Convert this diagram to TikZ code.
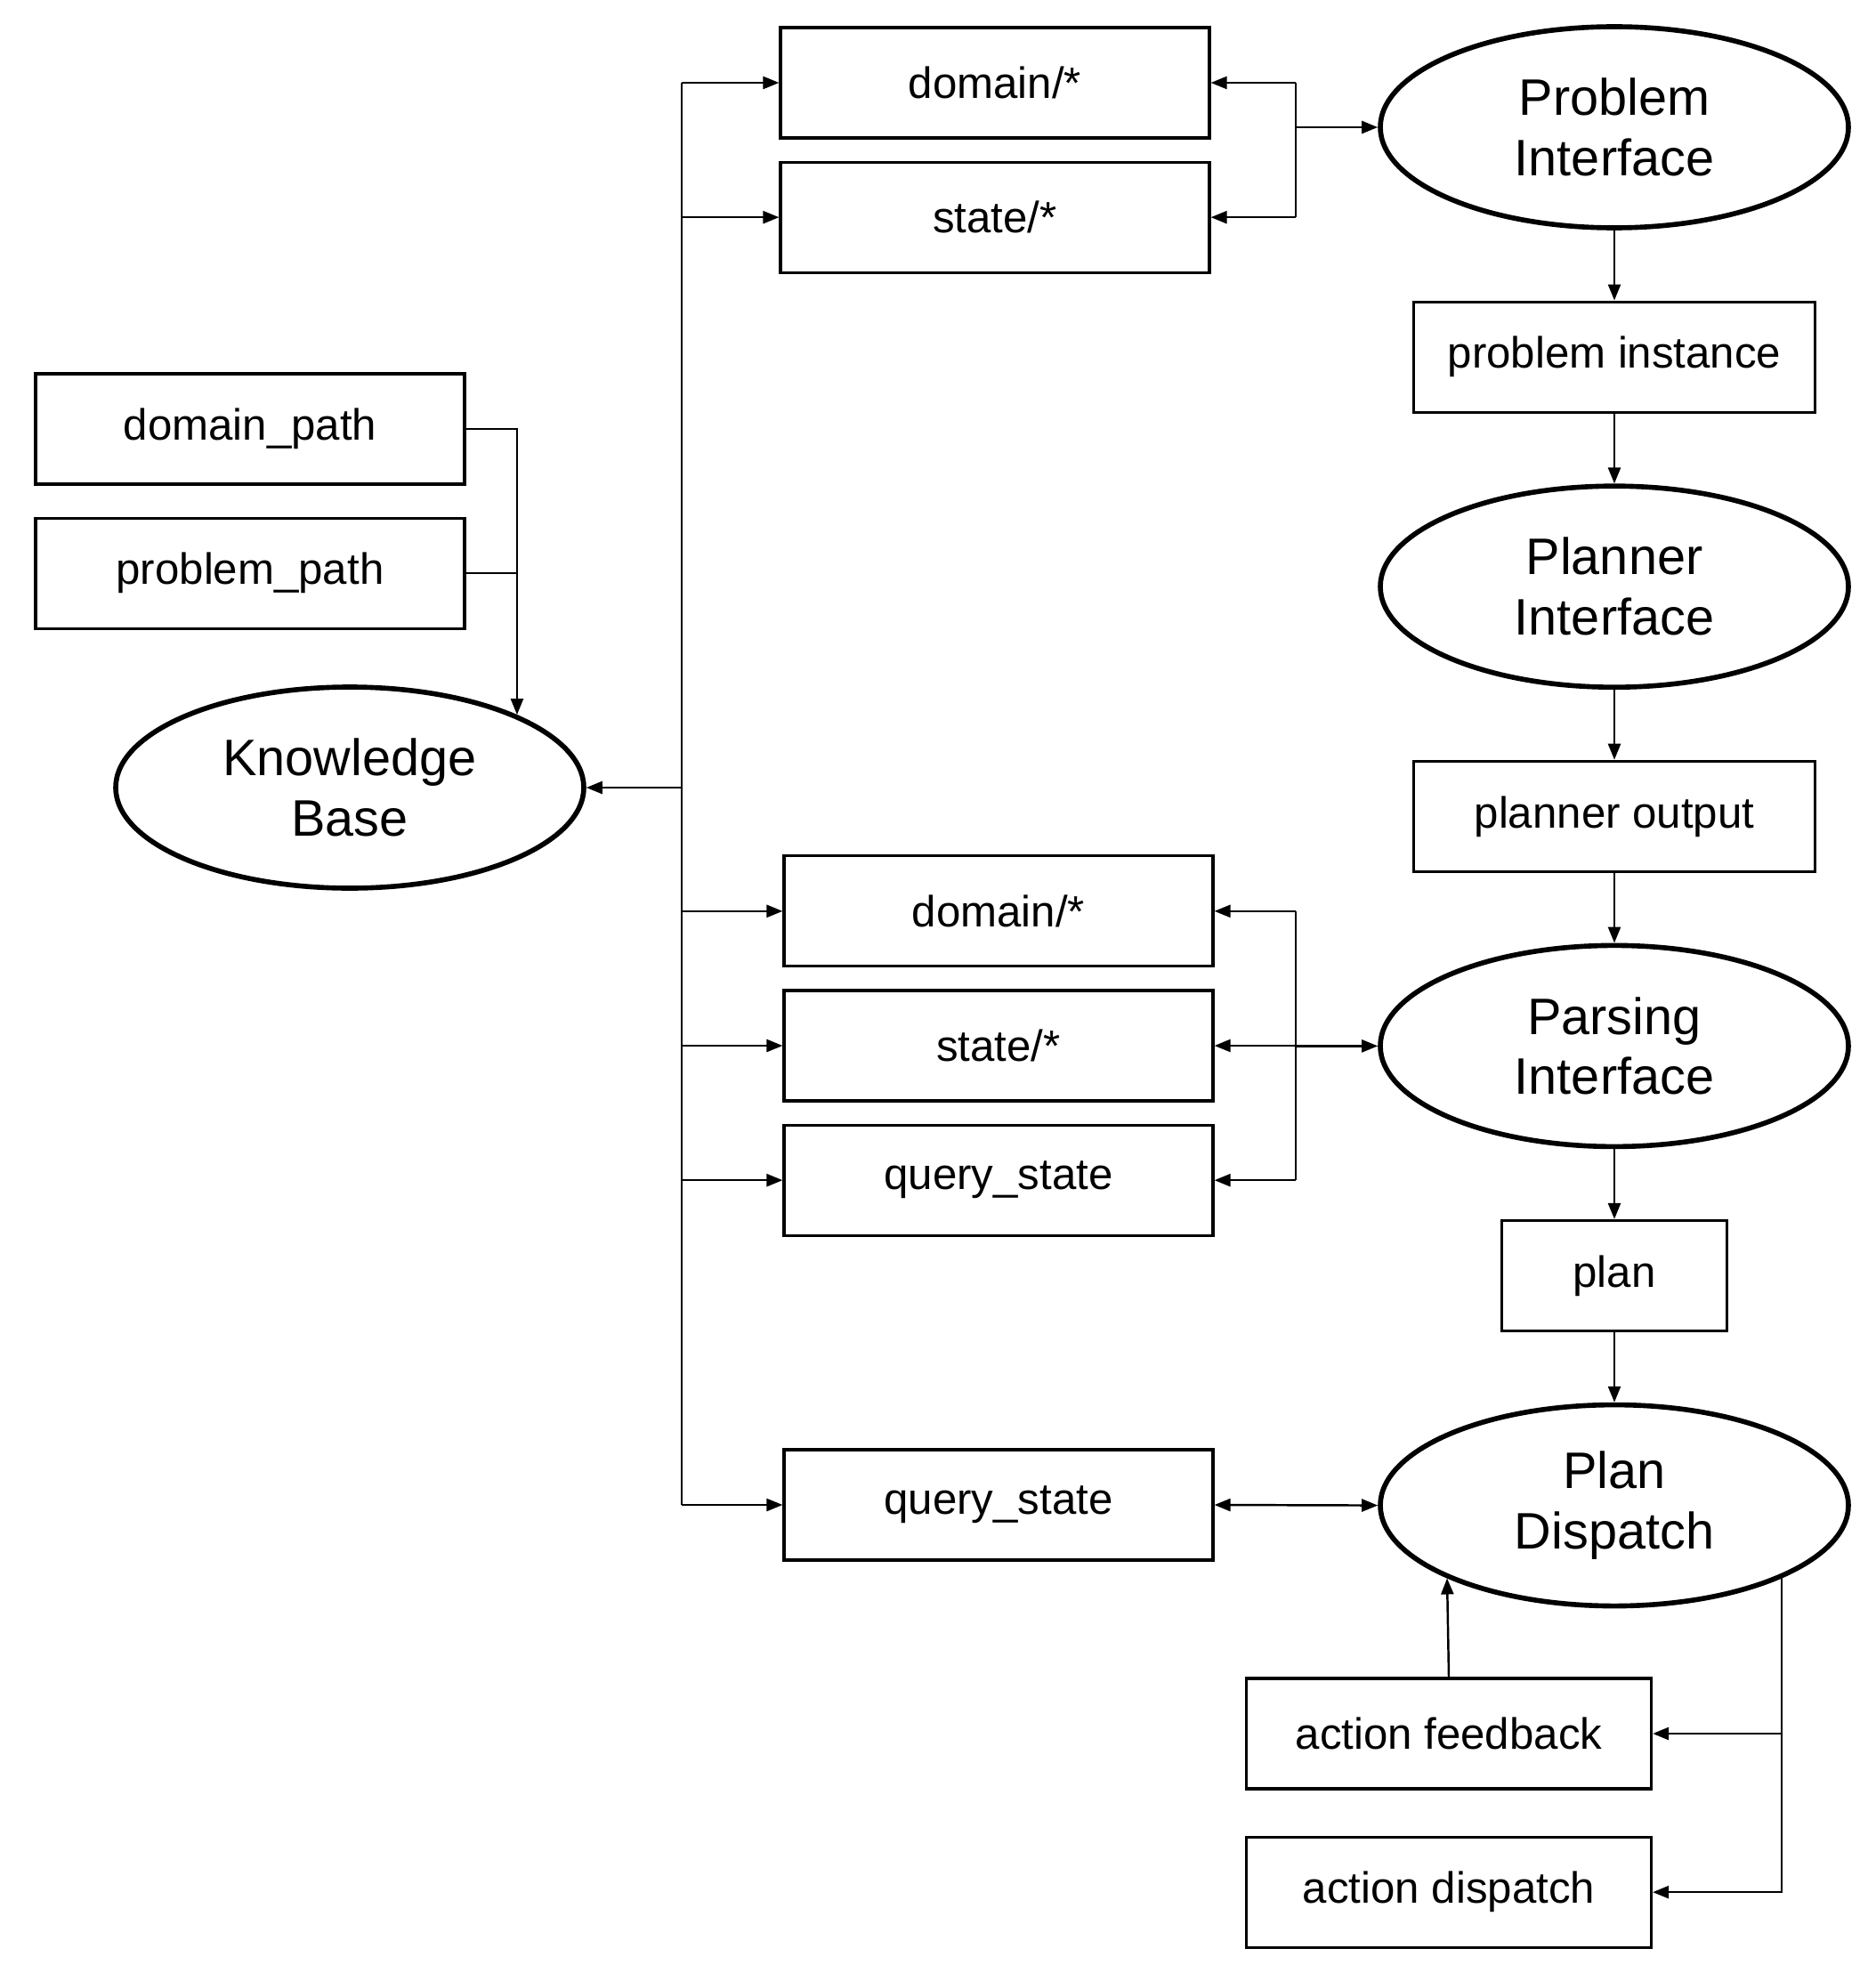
\documentclass[tikz,border=0pt]{standalone}
\usepackage{fontspec}
\setmainfont{Liberation Sans}
\usepackage{tikz}
\usetikzlibrary{positioning,arrows.meta,shapes.geometric}

\begin{document}
\begin{tikzpicture}[
  blk/.style={draw,line width=0.9pt,minimum width=4.82cm,minimum height=1.24cm,inner sep=0pt,align=center,font=\fontsize{14}{17}\selectfont},
  proc/.style={draw,ellipse,line width=1.6pt,minimum width=5.26cm,minimum height=2.26cm,inner sep=0pt,align=center,font=\fontsize{16.4}{19.3}\selectfont},
  >={Triangle[length=1.8mm,width=1.4mm]}, line width=0.7pt, node distance=0.24cm and 1.5cm]

\useasboundingbox (0,0) rectangle (21.08,-22.17);

\node[proc] (kb) at (3.93,-8.85) {Knowledge\\Base};
\node[blk] (dpath) at (2.81,-4.82) {domain\_path};
\node[blk,below=0.35cm of dpath] (ppath) {problem\_path};

\node[blk] (tdom) at (11.18,-0.93) {domain/*};
\node[blk,below=of tdom] (tstate) {state/*};

\node[proc] (pi) at (18.14,-1.43) {Problem\\Interface};
\node[blk,minimum width=4.51cm,below=0.787cm of pi] (pinst) {problem instance};
\node[proc,below=0.787cm of pinst] (pli) {Planner\\Interface};
\node[blk,minimum width=4.51cm,below=0.787cm of pli] (pout) {planner output};
\node[proc,below=0.787cm of pout] (pai) {Parsing\\Interface};
\node[blk,minimum width=2.53cm,below=0.787cm of pai] (plan) {plan};
\node[proc,below=0.787cm of plan] (pd) {Plan\\Dispatch};

\node[blk] (mstate) at (11.22,-11.75) {state/*};
\node[blk,above=of mstate] (mdom) {domain/*};
\node[blk,below=of mstate] (mquery) {query\_state};
\node[blk] (bquery) at (11.22,-16.91) {query\_state};

\node[blk,minimum width=4.55cm] (afb) at (16.28,-19.48) {action feedback};
\node[blk,minimum width=4.55cm,below=0.51cm of afb] (adisp) {action dispatch};

\coordinate (bus) at (7.66,0);
\coordinate (pj) at (14.56,0);

\draw[->] (dpath.east) -| (kb.north east);
\draw (ppath.east) -- (ppath.east -| kb.north east);

\draw (bus |- tdom.west) -- (bus |- bquery.west);
\draw[->] (bus |- kb.east) -- (kb.east);
\foreach \n in {tdom,tstate,mdom,mstate,mquery,bquery}{\draw[->] (bus |- \n.west) -- (\n.west);}

\draw (pj |- tdom.east) -- (pj |- tstate.east);
\foreach \n in {tdom,tstate}{\draw[->] (pj |- \n.east) -- (\n.east);}
\draw[->] (pj |- pi.west) -- (pi.west);

\draw (pj |- mdom.east) -- (pj |- mquery.east);
\foreach \n in {mdom,mstate,mquery}{\draw[->] (pj |- \n.east) -- (\n.east);}
\draw[->] (pj |- pai.west) -- (pai.west);
\draw[<->] (bquery.east) -- (pd.west);

\draw[->] (pi) -- (pinst);
\draw[->] (pinst) -- (pli);
\draw[->] (pli) -- (pout);
\draw[->] (pout) -- (pai);
\draw[->] (pai) -- (plan);
\draw[->] (plan) -- (pd);

\draw[->] (afb.north) -- (pd.south west);
\draw[->] (pd.south east) |- (adisp.east);
\draw[->] (pd.south east |- afb.east) -- (afb.east);
\end{tikzpicture}
\end{document}
